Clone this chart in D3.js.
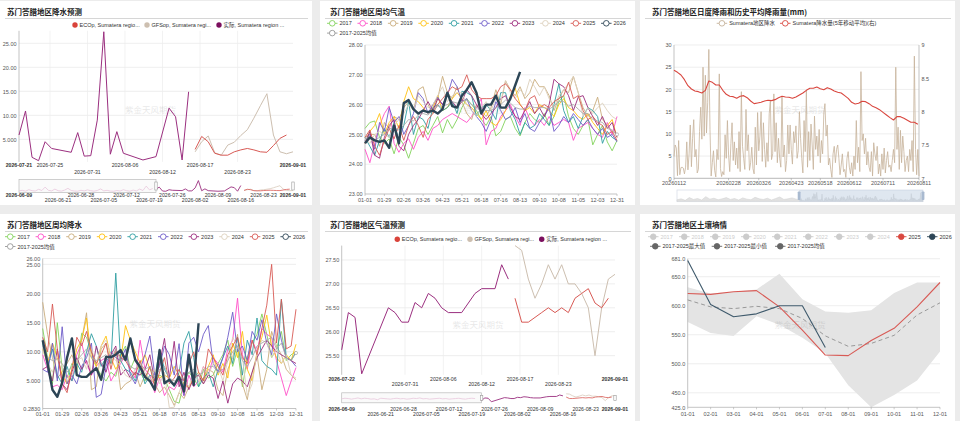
<!DOCTYPE html>
<html>
<head>
<meta charset="utf-8">
<title>苏门答腊地区天气</title>
<script src="https://d3js.org/d3.v7.min.js"></script>
<style>
  body, html { margin: 0; padding: 0; background: #ececec; }
  svg { display: block; }
</style>
</head>
<body>
<svg id="chart" width="960" height="421"></svg>
<script>
// ---------- precipitation forecast (top left) ----------
const actualRainDates = ["2026-07-21","2026-07-22","2026-07-23","2026-07-24","2026-07-25","2026-07-26","2026-07-29","2026-07-30","2026-07-31","2026-08-01","2026-08-02","2026-08-03","2026-08-04","2026-08-05","2026-08-06","2026-08-09","2026-08-11","2026-08-13","2026-08-14","2026-08-15","2026-08-16"];
const actualRain = [5.9,10.9,1.25,0.55,4.5,3.1,2.3,6.4,1.5,1.6,9.0,27.4,1.9,6.6,2.1,0.7,1.4,11.5,9.7,0.7,14.9];
const forecastStart = "2026-08-17";
const ecRain = [2.9,5.6,4.5,2.1,1.7,1.7,2.4,2.8,3.1,2.8,2.4,2.3,3.7,5.2,5.9];
const gfsRain = [2.4,4.5,5.7,2.2,1.7,3.8,4.4,5.8,7.0,9.4,12.0,14.5,5.9,2.4,2.0,2.4];
const sliderStart = "2026-06-09";
const earlyRain = [1.5,3.0,0.8,4.5,2.0,1.2,5.5,2.5,11.0,3.0,1.5,6.0,2.0,1.0,3.5,8.0,2.5,1.2,0.8,3.0,1.5,4.0,2.0,0.8,2.5,6.5,1.5,3.0,1.0,0.6,2.5,1.2,4.5,2.0,0.8,3.5,1.5,6.0,2.5,13.5,4.0,7.5];
// time-axis ticks fall at odd hours, labels show the date only
const fcTicks = ["2026-07-21T00","2026-07-25T18","2026-07-31T12","2026-08-06T06","2026-08-12T00","2026-08-17T18","2026-08-23T12","2026-09-01T00"];
const sliderTicks = ["2026-06-09T00","2026-06-21T00","2026-06-28T00","2026-07-05T00","2026-07-12T00","2026-07-19T00","2026-07-26T00","2026-08-02T00","2026-08-09T00","2026-08-16T00","2026-08-23T00","2026-09-01T00"];

// ---------- temperature forecast (bottom middle) ----------
const actualTempDates = ["2026-07-22","2026-07-23","2026-07-24","2026-07-25","2026-07-29","2026-07-30","2026-07-31","2026-08-01","2026-08-02","2026-08-03","2026-08-04","2026-08-05","2026-08-06","2026-08-07","2026-08-09","2026-08-11","2026-08-12","2026-08-14","2026-08-15","2026-08-16"];
const actualTemp = [25.62,26.4,26.3,25.12,26.5,26.4,26.2,26.2,26.61,26.5,26.8,26.7,26.5,26.4,26.4,26.8,26.9,26.9,27.4,27.1];
const ecTemp = [26.7,26.2,26.2,26.3,26.4,26.5,26.4,26.5,26.4,26.7,26.8,26.9,26.6,26.5,26.7];
const gfsTemp = [27.8,27.7,27.1,26.7,27.0,27.4,27.1,27.4,27.0,27.0,26.8,26.5,25.5,26.5,27.1,27.2];
const earlyTemp = [26.1,26.3,26.2,26.0,26.2,26.4,26.1,26.3,26.2,26.0,26.1,25.8,26.3,26.2,26.1,26.0,26.2,26.3,26.1,26.2,26.0,26.1,26.3,26.2,26.4,26.1,26.2,26.0,26.1,26.2,26.3,26.1,26.2,26.0,26.1,26.2,26.3,26.1,26.0,26.2,26.3,26.2];
const fcTempTicks = ["2026-07-22T00","2026-07-31T12","2026-08-06T06","2026-08-12T00","2026-08-17T18","2026-08-23T12","2026-09-01T00"];

// ---------- weekly series ----------
const years = ["2017","2018","2019","2020","2021","2022","2023","2024","2025","2026"];
const weekLabels = ["01-01","01-29","02-26","03-26","04-23","05-21","06-18","07-16","08-13","09-10","10-08","11-05","12-03","12-31"];

const temp2017 = [25.2,25.4,25.45,24.9,24.7,24.85,24.35,24.9,24.65,24.2,24.7,25.2,25.3,25.0,25.3,25.6,25.05,25.5,25.2,25.5,25.9,26.2,26.0,25.8,25.5,25.3,25.6,24.95,25.1,25.5,25.6,25.2,24.95,25.4,25.7,25.5,25.4,25.7,25.3,25.6,26.1,26.3,25.6,25.2,25.0,25.3,25.5,24.65,25.0,25.3,24.75,24.45,24.8];
const temp2018 = [24.5,24.05,24.7,25.3,25.7,25.95,24.7,24.4,24.7,24.85,24.5,24.9,25.1,24.8,25.2,25.3,25.5,25.6,25.7,25.6,25.5,25.4,25.6,25.9,26.2,24.65,25.1,25.2,25.6,25.8,26.0,25.6,25.3,25.9,25.5,25.3,25.5,25.3,25.6,25.3,25.4,25.5,25.4,24.8,25.2,25.3,25.4,25.2,25.0,24.9,25.4,25.0,25.6];
const temp2019 = [24.9,25.0,25.0,24.6,25.4,25.2,25.6,25.5,25.9,26.1,25.8,26.5,26.6,26.0,25.7,26.2,26.95,26.4,26.2,26.6,26.1,25.7,25.5,26.0,25.8,25.6,25.9,26.5,26.0,26.8,26.5,26.3,26.6,26.2,26.4,26.85,26.6,26.6,26.3,25.8,26.2,26.5,26.4,26.95,26.4,25.9,25.6,25.8,26.25,25.5,25.3,25.1,25.0];
const temp2020 = [24.7,25.1,25.3,25.7,25.0,25.4,25.6,25.2,26.1,26.6,26.2,26.1,25.9,25.7,25.9,26.3,25.8,25.9,26.2,26.4,26.2,26.0,25.9,25.7,25.5,25.8,25.4,25.3,25.5,25.8,26.3,26.55,26.0,25.8,25.9,25.7,26.0,25.9,25.8,25.6,26.0,26.2,25.9,25.8,25.6,25.5,25.7,25.4,25.2,25.0,25.3,25.5,24.9];
const temp2021 = [24.9,24.6,24.3,24.8,25.2,24.9,25.4,24.8,25.3,26.1,25.0,25.6,25.5,25.2,25.9,26.0,25.8,25.9,26.1,25.7,26.45,26.4,26.3,25.6,25.9,26.0,25.8,25.5,26.4,26.4,25.8,25.5,25.0,25.4,25.2,25.3,25.7,25.5,25.3,26.0,26.7,25.8,25.4,25.6,25.2,25.6,25.9,25.8,25.6,24.7,25.1,24.9,24.8];
const temp2022 = [24.8,25.0,24.5,25.4,25.1,25.9,25.4,25.6,25.0,25.3,25.7,26.4,26.2,25.7,26.0,26.25,26.0,26.3,26.85,26.6,26.1,26.2,25.8,25.6,25.4,25.1,25.5,26.1,25.8,25.5,25.6,25.9,25.4,25.7,25.2,25.1,25.4,25.6,25.9,25.1,25.3,25.6,25.4,25.7,25.5,25.3,25.5,25.2,25.0,25.2,24.9,25.0,24.75];
const temp2023 = [24.7,25.1,24.3,24.2,24.9,25.3,25.5,24.6,24.45,25.0,25.3,25.5,25.8,26.1,25.8,26.2,26.0,26.3,26.1,25.9,26.1,26.5,26.3,26.0,25.7,25.5,25.7,25.9,26.2,26.3,25.9,25.6,25.5,25.8,26.1,25.7,25.9,25.6,26.0,26.85,26.7,26.6,26.3,25.8,26.25,26.3,25.9,25.6,25.3,25.6,25.2,25.4,24.9];
const temp2024 = [24.85,24.7,25.0,25.1,25.0,24.9,25.3,25.5,25.7,26.0,25.8,26.3,26.1,25.9,26.0,26.3,26.6,26.1,26.3,26.4,26.4,26.0,25.8,25.6,25.9,26.1,25.8,26.2,26.1,26.8,26.4,26.2,26.5,26.3,26.85,26.6,26.3,26.6,26.2,25.9,26.3,26.5,26.7,26.95,26.4,25.6,25.9,25.7,25.9,26.05,25.8,25.6,25.5];
const temp2025 = [24.9,25.15,24.6,24.3,24.8,25.2,24.85,25.3,24.8,25.3,25.6,25.3,24.9,25.5,25.7,26.0,26.2,26.4,26.6,26.5,26.6,27.0,26.5,26.3,26.2,26.2,26.2,26.3,26.6,26.7,26.5,26.2,26.0,25.8,26.2,26.3,25.9,26.0,25.9,26.1,26.2,26.3,26.75,26.2,26.3,25.8,25.5,25.6,25.4,25.3,25.0,25.1,24.8];
const temp2026 = [24.7,24.9,24.8,24.75,24.8,24.55,25.3,24.7,26.05,26.15,25.85,25.7,25.8,25.75,25.8,25.7,25.85,26.4,25.95,25.9,26.3,26.5,26.75,26.4,25.7,26.0,26.0,26.3,25.9,25.9,26.2,26.65,27.1];
const tempAvg = [24.85,24.9,24.8,24.9,25.0,25.2,25.2,25.15,25.3,25.5,25.45,25.65,25.7,25.65,25.8,25.95,25.95,26.0,26.1,26.05,26.1,26.15,26.0,25.9,25.85,25.8,25.8,25.9,26.0,26.15,26.05,25.9,25.85,25.85,25.95,25.9,25.9,25.9,25.85,25.95,26.1,26.1,25.95,26.0,25.85,25.7,25.7,25.5,25.45,25.4,25.2,25.15,25.0];

const rain2017 = [14.0,9.0,4.5,15.0,7.0,5.5,8.0,6.5,13.2,12.5,10.0,7.5,6.0,5.0,6.5,5.8,9.5,11.0,7.0,9.0,6.5,5.0,7.5,4.5,6.0,5.5,3.5,1.5,1.2,4.8,6.5,5.5,4.0,7.0,5.5,6.0,8.0,9.5,12.0,7.5,10.5,4.0,9.0,11.5,13.0,16.5,13.0,9.0,10.5,13.5,8.5,9.5,10.0];
const rain2018 = [9.5,7.0,4.0,4.3,3.5,6.0,5.0,9.5,11.5,8.0,6.0,7.5,8.5,9.0,5.0,6.5,8.0,9.5,7.0,5.5,12.0,7.0,6.0,3.0,5.5,2.5,4.0,3.5,5.0,2.5,6.0,4.0,5.0,7.5,6.0,9.0,8.0,6.5,10.5,12.0,19.2,9.5,7.0,12.0,10.0,14.0,13.0,12.5,8.5,5.5,2.5,5.0,7.3];
const rain2019 = [18.5,13.0,9.0,5.5,6.5,8.0,9.5,7.0,12.0,16.7,3.5,4.0,10.5,11.5,8.0,10.0,3.5,4.5,5.0,6.5,4.0,6.0,5.5,4.5,3.0,4.0,2.5,0.8,3.0,2.0,4.0,5.5,6.0,4.5,7.0,6.5,3.5,2.5,7.0,9.0,13.0,4.5,1.8,6.5,9.5,3.5,7.0,13.5,11.0,9.5,7.0,6.0,5.2];
const rain2020 = [10.5,8.0,11.5,9.0,6.0,4.5,7.0,10.5,12.0,15.8,9.0,7.5,11.0,12.7,9.0,7.0,8.5,14.5,12.0,10.0,8.0,9.5,7.0,6.5,5.5,6.0,5.5,7.5,6.0,4.5,3.8,5.5,6.5,5.0,7.5,9.5,6.0,8.0,5.5,11.5,9.0,13.5,7.0,5.0,10.0,12.5,16.3,11.0,9.0,8.0,9.5,8.5,11.3];
const rain2021 = [11.5,7.5,10.5,6.0,4.5,7.5,5.0,8.0,6.5,10.0,13.1,11.0,7.5,9.0,8.0,23.5,8.5,7.0,6.5,5.0,7.5,4.5,6.0,5.5,10.5,7.0,5.5,4.0,6.5,11.5,13.5,9.0,4.0,5.5,6.5,4.0,7.0,9.0,11.0,8.0,12.5,6.0,12.0,9.5,15.8,8.5,7.5,7.0,6.0,19.0,9.0,8.5,10.0];
const rain2022 = [7.0,6.5,11.5,5.0,14.3,4.5,6.0,4.5,7.5,9.0,11.5,2.2,2.7,7.5,10.0,9.0,8.5,10.5,6.0,4.5,7.0,9.5,12.7,6.0,7.5,11.0,9.5,6.0,11.4,2.5,11.5,12.5,10.0,13.0,14.5,8.0,6.5,9.0,12.5,16.8,10.0,11.0,8.5,13.5,12.0,15.5,11.5,9.5,16.5,12.0,9.0,8.5,7.5];
const rain2023 = [7.0,7.5,5.0,10.5,4.5,3.5,6.5,9.0,7.0,8.5,6.0,11.0,8.0,6.5,9.5,11.0,6.0,7.0,5.5,6.5,6.0,7.0,9.5,5.0,8.0,12.3,5.5,11.8,4.0,6.5,3.5,5.5,6.0,4.5,6.0,5.5,2.0,5.0,1.2,4.5,5.5,5.0,4.0,6.5,9.0,10.5,12.0,11.0,10.0,9.5,9.0,8.5,8.0];
const rain2024 = [10.5,8.0,6.5,9.5,7.5,5.0,6.0,8.5,9.0,7.0,10.5,8.0,11.0,12.0,9.5,8.5,7.5,6.0,5.5,7.0,8.5,6.5,5.0,7.0,4.5,6.5,0.4,0.5,3.0,5.5,4.0,6.5,5.0,7.5,6.0,8.0,7.5,5.0,8.5,12.5,11.0,9.0,2.5,4.5,10.0,12.0,11.5,9.0,10.5,8.0,9.5,6.0,5.5];
const rain2025 = [12.5,10.0,18.2,10.5,4.5,3.0,7.0,12.5,11.0,13.5,10.0,8.0,9.5,11.5,7.0,10.5,9.0,8.5,7.0,6.0,8.5,5.5,7.5,4.0,6.5,9.0,4.5,5.5,7.0,5.0,8.0,10.0,6.5,5.0,10.5,9.0,7.5,6.0,9.5,11.0,12.5,9.0,8.0,12.0,9.5,14.0,18.0,25.0,11.5,19.0,10.5,11.0,17.3];
const rain2026 = [12.0,8.0,3.5,2.3,4.7,9.0,12.3,6.0,5.7,5.7,6.5,7.2,5.2,9.1,9.1,9.5,10.3,8.6,12.3,8.6,7.4,5.7,5.0,3.5,10.3,4.6,5.2,4.3,5.7,3.2,9.5,4.3,14.9];
const rainAvg = [11.0,9.0,8.5,8.8,8.0,6.5,7.5,8.5,9.5,10.5,9.0,8.5,9.0,9.5,8.5,10.5,8.5,9.0,7.5,7.0,8.0,7.0,7.5,5.5,7.0,7.5,5.5,5.0,5.5,5.5,6.5,7.0,6.0,6.5,7.5,7.5,6.5,7.0,8.5,10.0,11.0,8.5,7.5,9.0,11.0,11.5,12.0,12.5,10.5,11.5,9.0,8.5,9.8];

// ---------- daily rainfall (top right) ----------
const dailyStart = "2026-01-12";
const dailyRain = [4.9,7.5,6.8,0.6,8.5,0.8,2.4,2.5,2.3,1.0, 2.5,8.2,1.9,5.5,12.0,2.6,9.0,13.2,4.8,6.5,
  1.2,2.0,10.5,16.0,8.8,25.0,9.5,23.2,10.2,17.0, 29.0,11.0,0.5,3.5,6.2,1.8,0.3,6.5,4.2,23.5,
  2.2,0.4,1.5,0.8,9.8,4.5,13.0,5.2,1.5,7.8, 12.5,4.0,8.2,3.0,6.8,2.2,10.5,1.5,19.5,7.2,
  4.5,2.0,15.5,6.2,9.8,1.8,3.5,7.0,2.2,1.0, 11.5,3.0,14.8,6.2,9.5,15.0,3.8,12.5,6.5,2.5,
  8.0,3.8,14.5,17.5,4.2,5.5,19.0,6.0,12.5,3.5, 9.0,4.5,2.5,18.5,4.8,7.5,1.5,4.0,12.0,5.5,
  12.0,6.5,3.2,10.5,8.0,11.8,4.5,6.2,15.0,9.0, 4.5,1.2,13.0,6.0,19.8,2.5,10.5,4.0,12.2,7.5,
  2.0,14.0,6.5,9.5,5.0,11.0,3.5,8.5,5.5,14.5, 16.8,9.5,12.0,3.0,4.5,2.0,0.2,5.5,7.2,3.5,
  6.5,7.5,4.5,0.8,3.0,5.5,1.5,2.0,0.2,4.5, 6.0,2.5,1.0,3.5,0.5,5.0,2.0,13.0,3.5,7.0,
  1.5,24.0,8.5,10.0,5.5,9.0,3.0,6.0,2.5,1.5, 6.0,0.5,8.0,5.5,4.0,7.2,1.0,3.2,0.5,5.5,
  2.0,6.8,1.2,4.0,6.0,2.5,3.0,1.5,4.0,6.5, 3.5,25.0,6.5,11.5,2.0,10.8,3.5,9.5,6.0,1.5,
  4.0,5.0,1.5,6.5,4.0,8.5,1.5,27.5,6.5,0.8,6.5,0.5];
const avgStepDays = 3;
const rainMovingAvg = [8.62,8.59,8.55,8.48,8.39,8.34,8.31,8.30,8.28,8.32,8.46,8.44,8.40,8.40,8.32,8.26,8.23,8.225,8.20,8.23,
  8.24,8.21,8.16,8.12,8.13,8.14,8.16,8.17,8.165,8.18,8.21,8.23,8.22,8.215,8.20,8.22,8.25,8.28,8.32,8.35,
  8.35,8.37,8.345,8.33,8.36,8.34,8.31,8.29,8.28,8.24,8.20,8.14,8.115,8.125,8.155,8.15,8.12,8.08,8.06,8.03,
  7.99,7.95,7.91,7.875,7.925,7.925,7.90,7.87,7.84,7.84,7.81];
const shadowStart = "2025-06-18";
const shadowRainWeekly = [5,8,3,12,6,9,4,15,7,10,5,8,12,6,9,4,11,7,5,13,8,6,10,4,9,14,6,8,11,7];
const dailyTicks = ["20260112","20260228","20260326","20260423","20260518","20260612","20260711","20260811"];

// ---------- soil moisture (bottom right) ----------
const months = ["01-01","02-01","03-01","04-01","05-01","06-01","07-01","08-01","09-01","10-01","11-01","12-01"];
const soil2025 = [621,619.5,624,626,598,558,515,514,540,561,598,640];
const soil2026 = [678,602,581,586,600,600,528];
const soilMax = [632,621,624,628,655,611,590,588,592,622,640,640];
const soilMin = [572,553,548,582,567,545,518,463,425,446,471,521];
const soilAvg = [610,598,595,599,595,578,548,530,535,549,584,605];

// ---------- drawing ----------
const svg = d3.select("#chart");
const parse = d3.timeParse("%Y-%m-%d");
const parseH = d3.timeParse("%Y-%m-%dT%H");
const parseC = d3.timeParse("%Y%m%d");
const fmtDate = d3.timeFormat("%Y-%m-%d");
const fmt4 = d3.format(".4r");
const FONT = '"Liberation Sans", "Noto Sans CJK SC", sans-serif';
const yearColors = ["#82d35b","#ff4fc8","#c9ad7d","#ffc10e","#2f9ea2","#6d5bc8","#9c2b7d","#ddd0bc","#d85a55","#2c4556"];
const RED = "#d85a55", TAN = "#cdbfb0", PURPLE = "#9b2f7f";

function txt(x, y, s, o = {}) {
  return svg.append("text").attr("x", x).attr("y", y).text(s)
    .attr("font-family", o.family || FONT).attr("font-size", o.size || 5.5)
    .attr("fill", o.fill || "#555").attr("text-anchor", o.anchor || "start")
    .attr("font-weight", o.weight || null);
}
function line(x1, y1, x2, y2, color, w, dash) {
  return svg.append("line").attr("x1", x1).attr("y1", y1).attr("x2", x2).attr("y2", y2)
    .attr("stroke", color).attr("stroke-width", w || 0.7).attr("stroke-dasharray", dash || null);
}
function path(data, xf, yf, color, w, dash) {
  return svg.append("path").datum(data).attr("fill", "none").attr("stroke", color)
    .attr("stroke-width", w).attr("stroke-linejoin", "round").attr("stroke-dasharray", dash || null)
    .attr("d", d3.line().x(xf).y(yf));
}
function hGrid(scale, ticks, x0, x1) {
  ticks.forEach(t => line(x0, scale(t), x1, scale(t), "#e6e6e6", 0.7));
}
function yAxis(scale, ticks, xPos, fmt, right) {
  const g = svg.append("g").attr("transform", `translate(${xPos},0)`)
    .call((right ? d3.axisRight(scale) : d3.axisLeft(scale)).tickValues(ticks).tickFormat(fmt).tickSize(0).tickPadding(2.5));
  g.select(".domain").remove();
  g.selectAll("text").attr("font-size", 5.5).attr("font-family", FONT).attr("fill", "#555");
  const r = scale.range();
  line(xPos, r[0], xPos, r[1], "#aaa", 0.7);
}
function watermark(x, y) {
  txt(x, y, "紫金天风期货", {family: '"Noto Sans CJK SC"', size: 8.5, fill: "#000", anchor: "middle"}).attr("opacity", 0.09);
}
function dateLabels(scale, ticks, y1, y2, parity) {
  ticks.forEach((d, i) => {
    const edge = i === 0 || i === ticks.length - 1;
    const low = !edge && i % 2 === parity;
    txt(scale(parseH(d)), low ? y2 : y1, fmtDate(parseH(d)), {anchor: "middle", fill: "#333", size: 5.2, weight: edge ? 700 : null});
  });
}
function weekAxis(scale, labels, yPos, labelY) {
  line(scale.range()[0], yPos, scale.range()[1], yPos, "#aaa", 0.7);
  labels.forEach((l, i) => {
    const x = scale(i * 4);
    line(x, yPos, x, yPos + 2, "#aaa", 0.6);
    txt(x, labelY, l, {anchor: "middle"});
  });
}
function legendLine(x, y, color, label, filled, textColor) {
  line(x, y, x + 10.5, y, color, 0.9);
  svg.append("circle").attr("cx", x + 5.25).attr("cy", y).attr("r", 2.8)
    .attr("fill", filled ? color : "#fff").attr("stroke", color).attr("stroke-width", 0.9);
  txt(x + 12.5, y + 2, label, {fill: textColor || "#333"});
}
function legendDot(x, y, color, label) {
  svg.append("circle").attr("cx", x).attr("cy", y).attr("r", 2.7).attr("fill", color);
  txt(x + 4.5, y + 2, label, {fill: "#333"});
}

// panels
const panels = [
  [0, 1, 312, 204, 7, "苏门答腊地区降水预测"],
  [320, 1, 315, 204, 10, "苏门答腊地区周均气温"],
  [640, 1, 315, 204, 12, "苏门答腊地区日度降雨和历史平均降雨量(mm)"],
  [0, 214, 312, 207, 7, "苏门答腊地区周均降水"],
  [320, 214, 315, 207, 10, "苏门答腊地区气温预测"],
  [640, 214, 315, 207, 12, "苏门答腊地区土壤墒情"]
];
panels.forEach(([x, y, w, h, tx, t]) => {
  svg.append("rect").attr("x", x).attr("y", y).attr("width", w).attr("height", h).attr("fill", "#fff");
  txt(x + tx, y + 14.3, t, {family: '"Noto Sans CJK SC"', size: 7.5, weight: 700, fill: "#222"});
  line(x + 5, y + 17.5, x + w - 4, y + 17.5, "#ccc", 0.8);
});

// forecast chart helper (rain & temp)
function forecastChart(o) {
  const x = d3.scaleTime().domain([parse(o.start), parse("2026-09-01")]).range(o.xr);
  const y = d3.scaleLinear().domain(o.yd).range(o.yr);
  hGrid(y, o.yTicks, o.xr[0], o.xr[1]);
  o.ticks.slice(1, -1).forEach(d => line(x(parseH(d)), o.yr[1], x(parseH(d)), o.yr[0], "#ececec", 0.7));
  yAxis(y, o.yTicks, o.xr[0], fmt4);
  watermark(o.wm[0], o.wm[1]);
  dateLabels(x, o.ticks, o.lab[0], o.lab[1], o.parity);
  const act = o.actDates.map((d, i) => [parse(d), o.act[i]]);
  const ec = o.ec.map((v, i) => [d3.timeDay.offset(parse(forecastStart), i), v]);
  const gfs = o.gfs.map((v, i) => [d3.timeDay.offset(parse(forecastStart), i), v]);
  path(gfs, d => x(d[0]), d => y(d[1]), TAN, 1);
  path(ec, d => x(d[0]), d => y(d[1]), RED, 1);
  path(act, d => x(d[0]), d => y(d[1]), PURPLE, 1);
  legendDot(o.leg[0], o.leg[3], "#d9433a", "ECOp, Sumatera regio...");
  legendDot(o.leg[1], o.leg[3], "#cdbfb0", "GFSop, Sumatera regi...");
  legendDot(o.leg[2], o.leg[3], "#7b0f5e", "实际, Sumatera region ...");
  // slider
  const xs = d3.scaleTime().domain([parse(sliderStart), parse("2026-09-01")]).range([o.xr[0], o.xr[1]]);
  const ys = d3.scaleLinear().domain(o.sd).range(o.sy);
  const bx = xs(parse(o.actDates[0]));
  svg.append("rect").attr("x", o.xr[0]).attr("y", o.sy[1] - 1).attr("width", bx - o.xr[0]).attr("height", o.sy[0] - o.sy[1] + 2)
    .attr("fill", "#fafafa").attr("stroke", "#bbb").attr("stroke-width", 0.7);
  const early = o.early.map((v, i) => [d3.timeDay.offset(parse(sliderStart), i), v]);
  path(early, d => xs(d[0]), d => ys(d[1]), "#e8c6dc", 0.8);
  path(act, d => xs(d[0]), d => ys(d[1]), PURPLE, 0.9);
  path(gfs, d => xs(d[0]), d => ys(d[1]), "#d8cabb", 0.8);
  path(ec, d => xs(d[0]), d => ys(d[1]), RED, 0.8);
  [bx, o.xr[1]].forEach(hx => svg.append("rect").attr("x", hx - 1.2).attr("y", o.sy[1] + 1.5).attr("width", 2.4)
    .attr("height", o.sy[0] - o.sy[1] - 3).attr("fill", "#fff").attr("stroke", "#999").attr("stroke-width", 0.6));
  dateLabels(xs, sliderTicks, o.slab[0], o.slab[1], 1);
}

forecastChart({
  start: "2026-07-21", xr: [19, 293], yd: [0.3, 27.6], yr: [161.9, 30.8], yTicks: [5, 10, 15, 20, 25],
  ticks: fcTicks, lab: [167.2, 173.8], parity: 0, wm: [150.5, 113],
  actDates: actualRainDates, act: actualRain, ec: ecRain, gfs: gfsRain, early: earlyRain,
  leg: [75, 147, 219, 25], sd: [0, 27.6], sy: [191.5, 180.5], slab: [197.3, 202.3]
});
forecastChart({
  start: "2026-07-22", xr: [341.7, 615], yd: [25.1, 27.8], yr: [374.8, 245.6], yTicks: [25.5, 26, 26.5, 27, 27.5],
  ticks: fcTempTicks, lab: [381.4, 386.4], parity: 1, wm: [478, 328],
  actDates: actualTempDates, act: actualTemp, ec: ecTemp, gfs: gfsTemp, early: earlyTemp,
  leg: [397.3, 470, 541.7, 239.3], sd: [25.1, 27.8], sy: [401.8, 393.8], slab: [410.5, 416]
});

// weekly chart helper
function weeklyChart(o) {
  const x = d3.scaleLinear().domain([0, 52]).range(o.xr);
  const y = d3.scaleLinear().domain(o.yd).range(o.yr);
  hGrid(y, o.grid, o.xr[0], o.xr[1]);
  yAxis(y, o.yTicks, o.xr[0], fmt4);
  weekAxis(x, weekLabels, o.yr[0], o.labY);
  watermark(o.wm[0], o.wm[1]);
  o.series.forEach((s, i) => { if (i < 9) path(s, (d, j) => x(j), d => y(d), yearColors[i], 0.9); });
  path(o.avg, (d, j) => x(j), d => y(d), "#aaa", 0.9);
  svg.append("circle").attr("cx", x(52)).attr("cy", y(o.avg[52])).attr("r", 1.6).attr("fill", "#fff").attr("stroke", "#999").attr("stroke-width", 0.6);
  path(o.series[9], (d, j) => x(j), d => y(d), yearColors[9], 2.4);
  years.forEach((yr, i) => legendLine(o.leg[0] + i * o.leg[2], o.leg[1], yearColors[i], yr, false));
  legendLine(o.leg[0], o.leg[1] + 9.8, "#999", "2017-2025均值", false);
}

weeklyChart({
  xr: [365, 617], yd: [23, 28], yr: [194, 45], grid: [24, 25, 26, 27, 28], yTicks: [23, 24, 25, 26, 27, 28],
  labY: 202, wm: [480, 113], leg: [327, 23.3, 30.45],
  series: [temp2017, temp2018, temp2019, temp2020, temp2021, temp2022, temp2023, temp2024, temp2025, temp2026], avg: tempAvg
});
weeklyChart({
  xr: [42.7, 296], yd: [0.283, 26], yr: [408.5, 258.5], grid: [5, 10, 15, 20, 25, 26], yTicks: [0.283, 5, 10, 15, 20, 25, 26],
  labY: 416, wm: [155, 327], leg: [5, 236.7, 30.6],
  series: [rain2017, rain2018, rain2019, rain2020, rain2021, rain2022, rain2023, rain2024, rain2025, rain2026], avg: rainAvg
});

// daily rainfall and 5-year average
{
  const x = d3.scaleTime().domain([parse(dailyStart), parseC(dailyTicks[dailyTicks.length - 1])]).range([674, 919]);
  const yL = d3.scaleLinear().domain([0, 30]).range([178.3, 45]);
  const yR = d3.scaleLinear().domain([7, 9]).range([178.3, 45]);
  hGrid(yL, [5, 10, 15, 20, 25, 30], 674, 919);
  yAxis(yL, [0, 5, 10, 15, 20, 25, 30], 674, d3.format("d"));
  yAxis(yR, [7, 7.5, 8, 8.5, 9], 919, d => String(d), true);
  line(674, 178.3, 919, 178.3, "#999", 0.7);
  dailyTicks.forEach(d => {
    const tx = x(parseC(d));
    line(tx, 178.3, tx, 180.3, "#999", 0.6);
    txt(tx, 185, d, {anchor: "middle"});
  });
  watermark(800, 113);
  const daily = dailyRain.map((v, i) => [d3.timeDay.offset(parse(dailyStart), i), v]);
  const avg = rainMovingAvg.map((v, i) => [d3.timeDay.offset(parse(dailyStart), i * avgStepDays), v]);
  path(daily, d => x(d[0]), d => yL(d[1]), "#c6b39b", 0.8);
  path(avg, d => x(d[0]), d => yR(d[1]), "#d9473f", 1.1);
  legendLine(716.7, 23.3, "#c6b39b", "Sumatera地区降水", false);
  legendLine(780, 23.3, "#d9473f", "Sumatera降水量(5年移动平均)(右)", false);
  // slider
  const xs = d3.scaleTime().domain([parse(shadowStart), parseC(dailyTicks[dailyTicks.length - 1])]).range([677, 923]);
  const ys = d3.scaleLinear().domain([0, 30]).range([201.3, 192]);
  svg.append("rect").attr("x", 677).attr("y", 190).attr("width", 246).attr("height", 11.7)
    .attr("fill", "none").attr("stroke", "#d5dbe6").attr("stroke-width", 0.7);
  const shadow = shadowRainWeekly.map((v, i) => [d3.timeDay.offset(parse(shadowStart), i * 7), v]).concat(daily);
  svg.append("path").datum(shadow).attr("fill", "#e2e2e2").attr("stroke", "#cfcfcf").attr("stroke-width", 0.5)
    .attr("d", d3.area().x(d => xs(d[0])).y0(201.3).y1(d => ys(d[1])));
  const sx = xs(parse(dailyStart));
  svg.append("rect").attr("x", sx).attr("y", 190).attr("width", 923 - sx).attr("height", 11.7)
    .attr("fill", "#b9c9de").attr("opacity", 0.45);
  [sx, 923].forEach(hx => svg.append("rect").attr("x", hx - 1.4).attr("y", 191.5).attr("width", 2.8).attr("height", 8.5)
    .attr("rx", 0.8).attr("fill", "#a9bad0"));
}

// soil moisture
{
  const x = d3.scaleLinear().domain([0, 11]).range([687.7, 940]);
  const y = d3.scaleLinear().domain([425, 681]).range([407.3, 258.7]);
  hGrid(y, [450, 500, 550, 600, 650, 681], 687.7, 940);
  svg.append("path").datum(months).attr("fill", "#e4e4e4")
    .attr("d", d3.area().x((d, i) => x(i)).y0((d, i) => y(soilMin[i])).y1((d, i) => y(soilMax[i])));
  yAxis(y, [425, 450, 500, 550, 600, 650, 681], 687.7, fmt4);
  line(687.7, 407.3, 940, 407.3, "#aaa", 0.7);
  months.forEach((m, i) => {
    line(x(i), 407.3, x(i), 409.3, "#aaa", 0.6);
    txt(x(i), 415.8, m, {anchor: "middle"});
  });
  watermark(800, 328);
  path(soilAvg, (d, i) => x(i), d => y(d), "#999", 1, "4,3");
  path(soil2025, (d, i) => x(i), d => y(d), RED, 1.1);
  path(soil2026, (d, i) => x(i), d => y(d), "#3f5a6c", 1.1);
  years.forEach((yr, i) => {
    const on = i >= 8;
    legendLine(648 + i * 31, 236.7, on ? (i === 8 ? "#d9473f" : "#2c4556") : "#ccc", yr, true, on ? "#333" : "#ccc");
  });
  legendLine(650, 246.3, "#666", "2017-2025最大值", true);
  legendLine(711.7, 246.3, "#666", "2017-2025最小值", true);
  legendLine(775, 246.3, "#666", "2017-2025均值", true);
}
</script>
</body>
</html>
